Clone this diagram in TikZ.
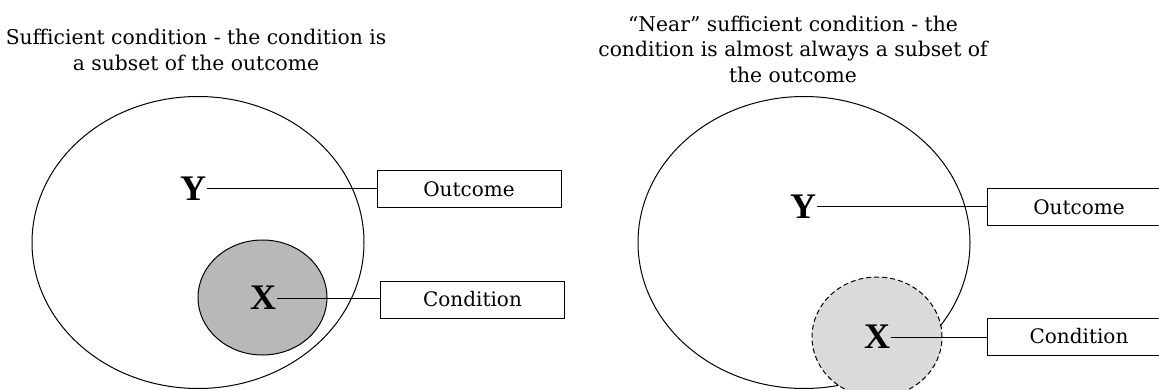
\documentclass[tikz,border=0pt]{standalone}
\usepackage{fontspec}
\setmainfont{DejaVu Serif}
\newfontfamily\varfont{Liberation Serif}
\usetikzlibrary{shapes.geometric}
\tikzset{
  big/.style={draw, ellipse, line width=1pt, minimum width=332pt, minimum height=292pt, inner sep=0pt},
  small/.style={draw, ellipse, line width=1pt, inner sep=0pt},
  var/.style={font=\varfont\bfseries\fontsize{36}{36}\selectfont, inner sep=1pt},
  labelbox/.style={draw, line width=1pt, minimum width=184pt, minimum height=37pt, inner sep=0pt, font=\fontsize{20}{20}\selectfont},
  conn/.style={line width=1pt},
  title/.style={align=center, font=\fontsize{20.3}{25.5}\selectfont, inner sep=0pt}
}
\begin{document}
\begin{tikzpicture}[x=1pt,y=-1pt]
\useasboundingbox (0,0) rectangle (1159,390);
\fill[white] (0,0) rectangle (1159,390);
% left diagram
\node[title] (t1) at (196,50) {Sufficient condition - the condition is\\a subset of the outcome};
\node[big] (e1) at (198,242.5) {};
\node[small, fill={rgb,255:red,184;green,184;blue,184}, minimum width=129pt, minimum height=115pt] (s1) at (262.5,297.5) {};
\node[var] (y1) at (193,189) {Y};
\node[var] (x1) at (263,298) {X};
\node[labelbox] (o1) at (469,189.5) {Outcome};
\node[labelbox] (c1) at (472.5,299.5) {Condition};
\draw[conn] (y1.east) -- (y1.east -| o1.west);
\draw[conn] (x1.east) -- (x1.east -| c1.west);
% right diagram
\node[title] (t2) at (793,49) {``Near'' sufficient condition - the\\condition is almost always a subset of\\the outcome};
\node[big] (e2) at (804,242.5) {};
\node[small, dashed, dash pattern=on 5pt off 3pt, fill={rgb,255:red,218;green,218;blue,218}, minimum width=130pt, minimum height=120pt] (s2) at (877,337) {};
\node[var] (y2) at (803,207) {Y};
\node[var] (x2) at (877,337) {X};
\node[labelbox] (o2) at (1079,207) {Outcome};
\node[labelbox] (c2) at (1079,336.5) {Condition};
\draw[conn] (y2.east) -- (y2.east -| o2.west);
\draw[conn] (x2.east) -- (x2.east -| c2.west);
\end{tikzpicture}
\end{document}
